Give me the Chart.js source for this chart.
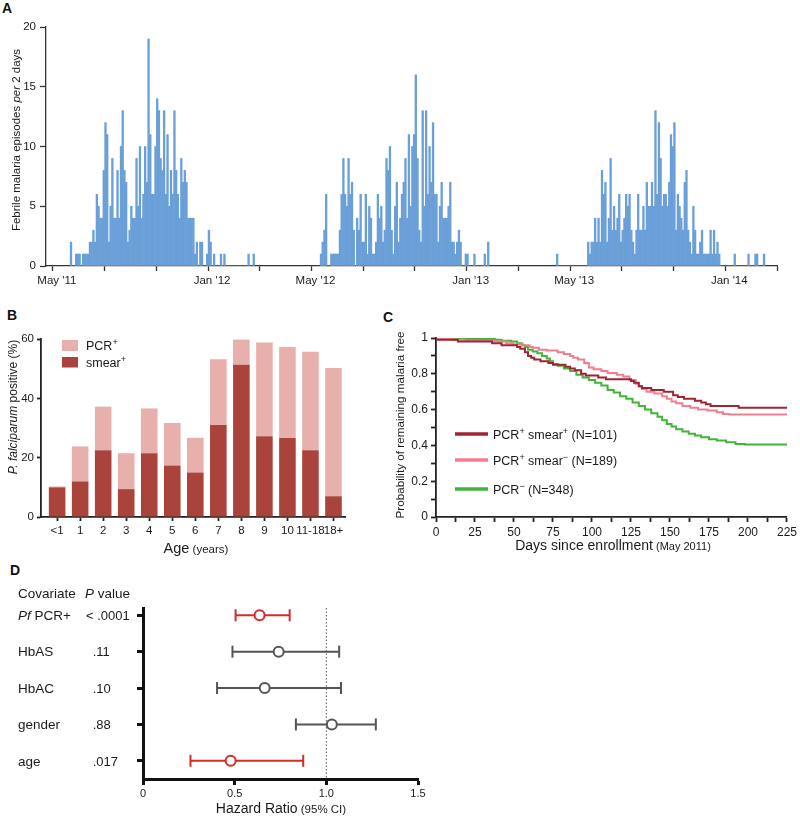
<!DOCTYPE html>
<html>
<head>
<meta charset="utf-8">
<script src="https://cdn.jsdelivr.net/npm/chart.js@4.4.1/dist/chart.umd.min.js"></script>
<style>
body{margin:0;background:#fff;width:800px;height:817px;position:relative;overflow:hidden}
canvas{position:absolute}
.lt{position:absolute;font:bold 14px 'Liberation Sans',Arial,sans-serif;line-height:14px;color:#111}
</style>
</head>
<body>
<div class="lt" style="left:2px;top:1px">A</div>
<div class="lt" style="left:7px;top:308px">B</div>
<div class="lt" style="left:383px;top:310px">C</div>
<div class="lt" style="left:10px;top:563px">D</div>
<canvas id="cA" width="800" height="295" style="left:0;top:0;width:800px;height:295px"></canvas>
<canvas id="cB" width="380" height="265" style="left:0;top:295px;width:380px;height:265px"></canvas>
<canvas id="cC" width="420" height="265" style="left:380px;top:295px;width:420px;height:265px"></canvas>
<canvas id="cD" width="500" height="257" style="left:0;top:560px;width:500px;height:257px"></canvas>
<script>
var FONT = "'Liberation Sans', Arial, sans-serif"
var INK = '#1a1a1a'

// A - febrile malaria episodes per 2-day bin (bin 0 = May '11)
var season1Start = 10
var season1 = [2,0,0,1,1,1,0,1,1,1,1,
  2,2,3,2,6,5,4,4,8,12,
  11,2,5,9,4,4,8,4,10,13,
  8,7,2,3,5,4,4,9,5,10,
  4,6,10,7,19,
  11,6,6,10,14,13,9,8,13,6,
  11,5,8,6,13,8,6,4,9,7,
  8,7,4,4,4,4,
  1,2,0,2,2,0,0,1,3,2,
  0,1,0,0,0,1,0,1,0,
  0,0,0,0,0,0,0,0,0,0,0,0,1,0,0,1]
var season2Start = 155
var season2 = [1,2,3,6,0,0,1,1,1,1,1,
  3,6,9,6,5,9,6,7,3,0,4,3,6,2,2,6,1,5,4,1,1,2,6,4,5,2,3,9,8,10,3,1,5,7,2,4,6,7,9,4,11,5,10,11,
  16,
  9,3,2,13,5,13,6,10,7,12,6,6,2,5,7,4,4,4,5,7,2,2,1,2,3,2,
  0,0,1,1,0,0,0,1,0,0,0,0,0,1,0,2]
var season3Start = 292
var season3 = [1,0,0,0,0,0,0,0,0,0,0,0,0,0,0,0,0,0,
  2,1,2,2,4,2,4,2,8,6,7,2,4,9,3,5,3,4,6,2,3,4,6,5,6,3,2,1,3,6,
  3,3,5,3,7,5,5,7,5,13,6,12,9,5,6,6,5,7,11,10,12,3,6,5,4,3,7,8,3,2,
  1,5,3,1,1,2,3,1,1,1,1,3,1,3,1,2,1,
  0,0,0,0,0,0,0,0,1,0,0,0,0,0,0,0,1,0,0,0,1,1,0,0,0,1]
var monthTicks = [0,30,60,90,120,150,180,210,240,270,300,330,360,390,420]
var monthLabels = ["May '11","","","Jan '12","","May '12","","","Jan '13","","May '13","","","Jan '14",""]

// B - % positive by age
var ageGroups = ['<1','1','2','3','4','5','6','7','8','9','10','11-18','18+']
var pcrPositive = [10.3,23.8,37.2,21.5,36.6,31.7,26.7,53.2,59.8,58.8,57.3,55.7,50.2]
var smearPositive = [10,12,22.5,9.4,21.5,17.4,15,31,51.3,27.2,26.6,22.5,7]

// C - Kaplan-Meier curves
var kmN = [101,189,348]
var daysSmearPos = [0,14,36,42,52,54,57,59,61,63,67,72,75,83,86,89,93,96,104,109,125,127,130,132,138,146,152,155,159,166,170,173,176,194,201,225]
var survSmearPos = [1,0.99,0.98,0.97,0.96,0.95,0.94,0.92,0.90,0.89,0.88,0.87,0.86,0.85,0.84,0.83,0.82,0.80,0.79,0.78,0.77,0.76,0.75,0.73,0.72,0.71,0.70,0.68,0.67,0.66,0.65,0.64,0.63,0.62,0.61,0.61]
var daysSmearNeg = [0,10,18,38,45,49,56,60,62,66,71,78,82,86,88,91,95,98,101,106,110,116,120,124,128,130,132,135,140,145,148,151,154,158,163,168,174,180,184,188,225]
var survSmearNeg = [1,0.995,0.99,0.985,0.98,0.97,0.965,0.96,0.95,0.945,0.935,0.93,0.92,0.91,0.90,0.89,0.88,0.86,0.835,0.825,0.815,0.805,0.795,0.785,0.765,0.745,0.73,0.715,0.70,0.69,0.675,0.66,0.645,0.635,0.62,0.61,0.60,0.595,0.585,0.575,0.572]
var daysPcrNeg = [0,38,42,48,52,55,57,59,62,65,68,71,73,75,78,82,86,90,94,98,102,106,110,114,118,122,126,130,134,138,142,145,148,151,154,158,162,166,170,175,180,186,192,198,205,225]
var survPcrNeg = [1,0.995,0.99,0.985,0.98,0.97,0.96,0.95,0.935,0.925,0.915,0.90,0.885,0.87,0.855,0.845,0.83,0.815,0.795,0.78,0.765,0.75,0.735,0.71,0.695,0.675,0.66,0.64,0.62,0.60,0.58,0.56,0.54,0.52,0.505,0.49,0.478,0.465,0.455,0.445,0.435,0.428,0.418,0.408,0.405,0.405]

// D - hazard ratios
var covariates = ['Pf PCR+','HbAS','HbAC','gender','age']
var pValues = ['< .0001','.11','.10','.88','.017']
var hazard = [0.636,0.74,0.664,1.03,0.478]
var ciLow = [0.505,0.488,0.404,0.834,0.259]
var ciHigh = [0.80,1.07,1.08,1.27,0.874]

function rich(ctx, parts, x, y, align, rot){
  ctx.save()
  ctx.translate(x, y)
  if(rot) ctx.rotate(-Math.PI/2)
  var w = 0
  parts.forEach(function(p){ ctx.font = p[1]; w += ctx.measureText(p[0]).width })
  var cx = align=='center' ? -w/2 : (align=='right' ? -w : 0)
  ctx.textAlign = 'left'
  ctx.textBaseline = 'alphabetic'
  ctx.fillStyle = INK
  parts.forEach(function(p){
    ctx.font = p[1]
    ctx.fillText(p[0], cx, p[2] || 0)
    cx += ctx.measureText(p[0]).width
  })
  ctx.restore()
}
function f(size, style){ return (style ? style+' ' : '') + size + 'px ' + FONT }

function axisOpts(color, bw, tl){
  return {
    grid:{drawOnChartArea:false, color:color, tickColor:color, tickLength:tl, tickWidth:bw},
    border:{color:color, width:bw}
  }
}

// ---------- A ----------
var binsA = []
;[[season1Start,season1],[season2Start,season2],[season3Start,season3]].forEach(function(s){
  s[1].forEach(function(v,i){ binsA.push({x:s[0]+i+0.5, y:v}) })
})
var axA = axisOpts('#333', 1.3, 5)
var ayA = axisOpts('#333', 1.3, 6)
new Chart(document.getElementById('cA'), {
  type:'bar',
  data:{datasets:[{data:binsA, backgroundColor:'#6a9fd8', borderWidth:0, barPercentage:1, categoryPercentage:1, inflateAmount:0.3}]},
  options:{
    responsive:false, animation:false,
    layout:{padding:{top:27,right:23,bottom:0,left:0}},
    plugins:{legend:{display:false}, tooltip:{enabled:false}},
    scales:{
      x:{type:'linear', min:-4, max:420, offset:false,
        afterBuildTicks:function(s){ s.ticks = monthTicks.map(function(v){ return {value:v} }) },
        afterFit:function(s){ s.height = 29 },
        ticks:{callback:function(v,i){ return monthLabels[i] }, autoSkip:false, maxRotation:0, labelOffset:4, padding:3,
          font:{family:FONT,size:11.5}, color:INK},
        grid:Object.assign({offset:false}, axA.grid), border:axA.border},
      y:{min:0, max:20,
        afterFit:function(s){ s.width = 46 },
        ticks:{stepSize:5, padding:4, font:{family:FONT,size:11.5}, color:INK},
        grid:ayA.grid, border:ayA.border}
    }
  },
  plugins:[{id:'txtA', afterDraw:function(c){
    rich(c.ctx, [['Febrile malaria episodes ', f(11.5)], ['per', f(11.5,'italic')], [' 2 days', f(11.5)]], 20, 140, 'center', true)
  }}]
})

// ---------- B ----------
var axB = axisOpts('#222', 1.8, 4)
new Chart(document.getElementById('cB'), {
  type:'bar',
  data:{datasets:[
    {label:'smear+', data:smearPositive.map(function(v,i){ return {x:i, y:v} }), backgroundColor:'#a9433b', borderWidth:0, barPercentage:0.72, categoryPercentage:1},
    {label:'PCR+', data:pcrPositive.map(function(v,i){ return {x:i, y:Math.round((v-smearPositive[i])*10)/10} }), backgroundColor:'#e8b0ad', borderWidth:0, barPercentage:0.72, categoryPercentage:1}
  ]},
  options:{
    responsive:false, animation:false,
    layout:{padding:{top:44,right:35,bottom:0,left:0}},
    plugins:{legend:{display:false}, tooltip:{enabled:false}},
    scales:{
      x:{type:'linear', stacked:true, min:-0.7, max:12.5, offset:false,
        afterBuildTicks:function(s){ s.ticks = ageGroups.map(function(a,i){ return {value:i} }) },
        afterFit:function(s){ s.height = 43 },
        ticks:{callback:function(v,i){ return ageGroups[i] }, autoSkip:false, maxRotation:0, padding:3,
          font:{family:FONT,size:11.5}, color:INK},
        grid:Object.assign({offset:false}, axB.grid), border:axB.border},
      y:{stacked:true, min:0, max:60,
        afterFit:function(s){ s.width = 41 },
        ticks:{stepSize:20, padding:3, font:{family:FONT,size:11.5}, color:INK},
        grid:axB.grid, border:axB.border}
    }
  },
  plugins:[{id:'txtB', afterDraw:function(c){
    var ctx = c.ctx, ds = c.data.datasets
    rich(ctx, [['P. falciparum', f(12,'italic')], [' positive (%)', f(12)]], 17, 112, 'center', true)
    rich(ctx, [['Age', f(14.5)], [' (years)', f(11.5)]], 196, 258, 'center')
    ctx.fillStyle = ds[1].backgroundColor
    ctx.fillRect(62, 45, 16, 11)
    ctx.fillStyle = ds[0].backgroundColor
    ctx.fillRect(62, 62, 16, 10.5)
    rich(ctx, [['PCR', f(12.5)], ['+', f(9), -5]], 86, 55)
    rich(ctx, [['smear', f(12.5)], ['+', f(9), -5]], 86, 71.5)
  }}]
})

// ---------- C ----------
var kmColors = ['#a02534','#f27d8e','#43b43a']
function km(days, surv, col){
  return {data:days.map(function(d,i){ return {x:d, y:surv[i]} }), showLine:true, stepped:'after',
    borderColor:col, borderWidth:2, pointRadius:0, fill:false}
}
var axC = axisOpts('#222', 1.8, 5)
new Chart(document.getElementById('cC'), {
  type:'scatter',
  data:{datasets:[
    km(daysSmearPos, survSmearPos, kmColors[0]),
    km(daysSmearNeg, survSmearNeg, kmColors[1]),
    km(daysPcrNeg, survPcrNeg, kmColors[2])
  ]},
  options:{
    responsive:false, animation:false,
    layout:{padding:{top:43,right:13,bottom:0,left:0}},
    plugins:{legend:{display:false}, tooltip:{enabled:false}},
    scales:{
      x:{type:'linear', min:0, max:225,
        afterFit:function(s){ s.height = 43 },
        ticks:{stepSize:12.5, autoSkip:false, maxRotation:0, padding:3,
          callback:function(v){ return v % 25 === 0 ? String(v) : '' },
          font:{family:FONT,size:12}, color:INK},
        grid:axC.grid, border:axC.border},
      y:{min:0, max:1,
        afterFit:function(s){ s.width = 56 },
        ticks:{stepSize:0.1, autoSkip:false, padding:3,
          callback:function(v){ var k = Math.round(v*10); return k % 2 ? '' : (k==10 ? '1' : (k==0 ? '0' : (k/10).toFixed(1))) },
          font:{family:FONT,size:12}, color:INK},
        grid:axC.grid, border:axC.border}
    }
  },
  plugins:[{id:'txtC', afterDraw:function(c){
    var ctx = c.ctx
    rich(ctx, [['Probability of remaining malaria free', f(11.7)]], 23.5, 130, 'center', true)
    rich(ctx, [['Days since enrollment', f(14)], [' (May 2011)', f(11)]], 233, 255, 'center')
    var sup = f(9)
    var labels = [
      [['PCR', f(12.5)], ['+', sup, -5], [' smear', f(12.5)], ['+', sup, -5], [' (N=' + kmN[0] + ')', f(12.5)]],
      [['PCR', f(12.5)], ['+', sup, -5], [' smear', f(12.5)], ['\u2212', sup, -5], [' (N=' + kmN[1] + ')', f(12.5)]],
      [['PCR', f(12.5)], ['\u2212', sup, -5], [' (N=' + kmN[2] + ')', f(12.5)]]
    ]
    var ys = [139, 165, 194]
    labels.forEach(function(l,i){
      ctx.save()
      ctx.strokeStyle = c.data.datasets[i].borderColor
      ctx.lineWidth = 3.5
      ctx.beginPath(); ctx.moveTo(75, ys[i]); ctx.lineTo(108, ys[i]); ctx.stroke()
      ctx.restore()
      rich(ctx, l, 113, ys[i] + 4.5)
    })
  }}]
})

// ---------- D ----------
var red = '#d42b2b', grey = '#555555'
var rowColor = ciHigh.map(function(h){ return h < 1 ? red : grey })
var dsD = [{data:[{x:1,y:-0.2},{x:1,y:4.5}], showLine:true, borderColor:'#555', borderWidth:1, borderDash:[1.5,2], pointRadius:0, order:3}]
covariates.forEach(function(cv,i){
  dsD.push({data:[{x:ciLow[i],y:i},{x:ciHigh[i],y:i}], showLine:true, borderColor:rowColor[i], borderWidth:2,
    pointStyle:'line', pointRotation:90, pointRadius:6, pointBorderColor:rowColor[i], pointBorderWidth:2, order:2})
})
dsD.push({data:hazard.map(function(v,i){ return {x:v, y:i} }), showLine:false, pointStyle:'circle', pointRadius:5,
  pointBorderWidth:2, pointBackgroundColor:'#fff', pointBorderColor:rowColor, order:1})
var axD = axisOpts('#111', 3, 6)
new Chart(document.getElementById('cD'), {
  type:'scatter',
  data:{datasets:dsD},
  options:{
    responsive:false, animation:false, clip:false,
    layout:{padding:{top:48,right:82,bottom:0,left:0}},
    plugins:{legend:{display:false}, tooltip:{enabled:false}},
    scales:{
      x:{type:'linear', min:0, max:1.5,
        afterFit:function(s){ s.height = 38 },
        ticks:{stepSize:0.5, padding:2, callback:function(v){ return v===0 ? '0' : v.toFixed(1) },
          font:{family:FONT,size:11}, color:INK},
        grid:axD.grid, border:axD.border},
      y:{type:'linear', reverse:true, min:-0.2, max:4.5,
        afterBuildTicks:function(s){ s.ticks = covariates.map(function(cv,i){ return {value:i} }) },
        afterFit:function(s){ s.width = 143 },
        ticks:{callback:function(){ return '' }, autoSkip:false},
        grid:axD.grid, border:axD.border}
    }
  },
  plugins:[{id:'txtD', afterDraw:function(c){
    var ctx = c.ctx, ys = c.scales.y
    rich(ctx, [['Covariate', f(13.5)]], 18, 38)
    rich(ctx, [['P', f(13.5,'italic')], [' value', f(13.5)]], 85, 38)
    covariates.forEach(function(cv,i){
      var py = ys.getPixelForValue(i) + 4.8
      var parts = cv.indexOf('Pf ')===0 ? [['Pf', f(13.5,'italic')], [cv.slice(2), f(13.5)]] : [[cv, f(13.5)]]
      rich(ctx, parts, 18, py)
      var pv = pValues[i]
      rich(ctx, [[pv, f(13)]], pv.charAt(0)=='<' ? 86 : 92.7, py)
    })
    rich(ctx, [['Hazard Ratio', f(14)], [' (95% CI)', f(11.5)]], 281, 253, 'center')
  }}]
})
</script>
</body>
</html>
